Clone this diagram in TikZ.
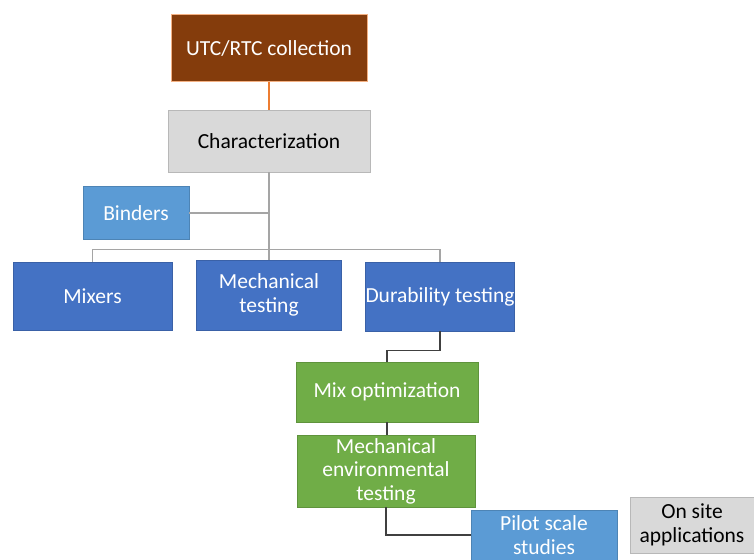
\documentclass[tikz,border=0pt]{standalone}
\usepackage{fontspec}
\setmainfont{Carlito}
\definecolor{brownbox}{HTML}{843C0C}
\definecolor{brownedge}{HTML}{F4B183}
\definecolor{orangeline}{HTML}{ED7D31}
\definecolor{greybox}{HTML}{D9D9D9}
\definecolor{lightblue}{HTML}{5B9BD5}
\definecolor{darkblue}{HTML}{4472C4}
\definecolor{greenbox}{HTML}{70AD47}
\definecolor{lightline}{HTML}{A5A5A5}
\definecolor{darkline}{HTML}{404040}
\tikzset{
  box/.style={rectangle, inner sep=0pt, align=center, font=\fontsize{21.5}{23.5}\selectfont},
  brownstyle/.style={box, fill=brownbox, draw=brownedge, line width=1pt, text=white},
  greystyle/.style={box, fill=greybox, draw=greybox!85!black, line width=0.4pt, text=black},
  lbluestyle/.style={box, fill=lightblue, draw=lightblue!85!black, line width=0.6pt, text=white},
  dbluestyle/.style={box, fill=darkblue, draw=darkblue!85!black, line width=0.6pt, text=white},
  greenstyle/.style={box, fill=greenbox, draw=greenbox!85!black, line width=0.6pt, text=white},
  thinline/.style={draw=lightline, line width=1.2pt},
  darkconn/.style={draw=darkline, line width=1.2pt},
}
\begin{document}
\begin{tikzpicture}[x=1pt,y=-1pt]
\useasboundingbox (0,0) rectangle (754,559);
\node[brownstyle, minimum width=196pt, minimum height=67pt] (utc) at (269,48.5) {UTC/RTC collection};
\node[greystyle, minimum width=202pt, minimum height=62pt] (char) at (269,141) {Characterization};
\node[lbluestyle, minimum width=106pt, minimum height=53pt] (binders) at (136,213) {Binders};
\node[dbluestyle, minimum width=159pt, minimum height=68pt] (mixers) at (92.5,296) {Mixers};
\node[dbluestyle, minimum width=145pt, minimum height=70pt] (mech) at (269,295) {Mechanical\\testing};
\node[dbluestyle, minimum width=148pt, minimum height=69pt] (dur) at (440,296.5) {Durability testing};
\node[greenstyle, minimum width=182pt, minimum height=60pt] (mix) at (387,392) {Mix optimization};
\node[greenstyle, minimum width=178pt, minimum height=72pt] (env) at (386,471) {Mechanical\\environmental\\testing};
\node[lbluestyle, minimum width=146pt, minimum height=50pt] (pilot) at (544,535) {Pilot scale\\studies};
\node[greystyle, minimum width=124pt, minimum height=56pt] (onsite) at (692,525) {On site\\applications};

\draw[draw=orangeline, line width=1.2pt] (utc.south) -- (char.north);
\draw[thinline] (char.south) -- (mech.north);
\draw[thinline] (binders.east) -- (binders.east -| char.south);
\draw[thinline] (mixers.north) -- ++(0,-12) -| (dur.north);
\draw[darkconn] (dur.south) -- ++(0,19) -| (mix.north);
\draw[darkconn] (mix.south) -- (mix.south |- env.north);
\draw[darkconn] (env.south) |- (pilot.west);
\end{tikzpicture}
\end{document}
